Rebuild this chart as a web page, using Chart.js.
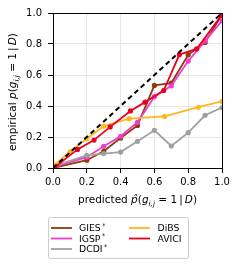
<!DOCTYPE html>
<html>
<head>
<meta charset="utf-8">
<script src="https://cdn.jsdelivr.net/npm/chart.js@4.4.1/dist/chart.umd.min.js"></script>
<style>
  html, body { margin: 0; padding: 0; background: #fff; }
  canvas { display: block; }
</style>
</head>
<body>
<canvas id="calib" width="240" height="267"></canvas>
<script>
// values
var methods = ['GIES', 'IGSP', 'DCDI', 'DiBS', 'AVICI'];
var starred = [true, true, true, false, false];
var colors = ['#8c3b0e', '#f23cc8', '#a0a0a0', '#ffb71c', '#e8001f'];

var giesX = [0.0, 0.2, 0.3, 0.4, 0.5, 0.6, 0.7, 0.8, 0.9, 1.0];
var giesY = [0.0, 0.05, 0.108, 0.194, 0.275, 0.533, 0.548, 0.73, 0.81, 0.99];

var igspX = [0.0, 0.2, 0.3, 0.4, 0.5, 0.6, 0.7, 0.8, 0.9, 1.0];
var igspY = [0.005, 0.07, 0.14, 0.205, 0.295, 0.46, 0.53, 0.69, 0.82, 0.95];

var dcdiX = [0.0, 0.2, 0.3, 0.4, 0.5, 0.6, 0.7, 0.8, 0.9, 1.0];
var dcdiY = [0.01, 0.082, 0.093, 0.103, 0.172, 0.243, 0.142, 0.228, 0.34, 0.39];

var dibsX = [0.01, 0.1, 0.2, 0.3, 0.45, 0.66, 0.86, 1.0];
var dibsY = [0.02, 0.105, 0.19, 0.27, 0.318, 0.333, 0.392, 0.43];

var aviciX = [0.01, 0.145, 0.243, 0.338, 0.458, 0.545, 0.655, 0.748, 0.85, 0.997];
var aviciY = [0.005, 0.12, 0.18, 0.265, 0.368, 0.425, 0.50, 0.732, 0.768, 0.985];

var diagX = [0, 1];
var diagY = [0, 1];

var tickValues = [0, 0.2, 0.4, 0.6, 0.8, 1.0];

var FONT = '"DejaVu Sans", sans-serif';

function pairs(xs, ys) {
    return xs.map(function(x, i) { return { x: x, y: ys[i] }; });
}

var seriesX = [giesX, igspX, dcdiX, dibsX, aviciX];
var seriesY = [giesY, igspY, dcdiY, dibsY, aviciY];
var drawOrder = [5, 4, 3, 2, 1];

var datasets = methods.map(function(name, i) {
    return {
        label: name,
        data: pairs(seriesX[i], seriesY[i]),
        showLine: true,
        borderColor: colors[i],
        backgroundColor: colors[i],
        borderWidth: 1.8,
        pointRadius: 2.6,
        pointBorderWidth: 0,
        order: drawOrder[i]
    };
});

datasets.push({
    label: 'diagonal',
    data: pairs(diagX, diagY),
    showLine: true,
    borderColor: '#000',
    borderWidth: 2,
    borderDash: [5, 3.5],
    pointRadius: 0,
    order: 0
});

// mixed italic / subscript text, like the mathtext labels
function runFont(r, size) {
    return (r.it ? 'italic ' : '') + (r.sub ? size * 0.7 : size) + 'px ' + FONT;
}

function drawRuns(ctx, runs, cx, baseY, size) {
    var w = 0;
    runs.forEach(function(r) {
        ctx.font = runFont(r, size);
        w += ctx.measureText(r.t).width;
    });
    var x = cx - w / 2;
    ctx.textAlign = 'left';
    ctx.textBaseline = 'alphabetic';
    runs.forEach(function(r) {
        ctx.font = runFont(r, size);
        ctx.fillText(r.t, x, baseY + (r.sub ? size * 0.28 : 0));
        x += ctx.measureText(r.t).width;
    });
}

function mathTail() {
    return [
        { t: '(' }, { t: 'g', it: 1 }, { t: 'i,j', it: 1, sub: 1 },
        { t: ' = 1\u2009|\u2009' }, { t: 'D', it: 1 }, { t: ')' }
    ];
}

var extrasPlugin = {
    id: 'extras',
    afterDraw: function(chart) {
        var ctx = chart.ctx;
        var a = chart.chartArea;
        ctx.save();

        // full frame
        ctx.strokeStyle = '#000';
        ctx.lineWidth = 1;
        ctx.strokeRect(Math.round(a.left) + 0.5, Math.round(a.top) + 0.5,
            Math.round(a.right - a.left), Math.round(a.bottom - a.top));

        // axis titles
        ctx.fillStyle = '#000';
        var cx = (a.left + a.right) / 2;
        drawRuns(ctx, [{ t: 'predicted ' }, { t: 'p\u0302', it: 1 }].concat(mathTail()), cx, 203, 10.5);

        ctx.save();
        ctx.translate(16, 92);
        ctx.rotate(-Math.PI / 2);
        drawRuns(ctx, [{ t: 'empirical ' }, { t: 'p', it: 1 }].concat(mathTail()), 0, 0, 10.5);
        ctx.restore();

        // legend, column-major like the reference
        ctx.beginPath();
        ctx.roundRect(48.5, 217.5, 140, 41, 2);
        ctx.fillStyle = 'rgba(255,255,255,0.8)';
        ctx.fill();
        ctx.strokeStyle = '#cccccc';
        ctx.stroke();

        var cols = [{ line: 51, text: 79 }, { line: 129, text: 157.5 }];
        var rows = [228, 238.5, 249];
        methods.forEach(function(name, i) {
            var c = cols[i < 3 ? 0 : 1];
            var y = rows[i < 3 ? i : i - 3];
            ctx.beginPath();
            ctx.moveTo(c.line, y);
            ctx.lineTo(c.line + 21, y);
            ctx.strokeStyle = colors[i];
            ctx.lineWidth = 1.8;
            ctx.stroke();

            ctx.fillStyle = '#000';
            ctx.font = '9.3px ' + FONT;
            ctx.textAlign = 'left';
            ctx.textBaseline = 'alphabetic';
            ctx.fillText(name, c.text, y + 3.4);
            if (starred[i]) {
                var w = ctx.measureText(name).width;
                ctx.font = '6.5px ' + FONT;
                ctx.fillText('*', c.text + w + 1.5, y - 0.5);
            }
        });

        ctx.restore();
    }
};

function axis(fitFn) {
    return {
        type: 'linear',
        min: 0,
        max: 1,
        afterBuildTicks: function(scale) {
            scale.ticks = tickValues.map(function(v) { return { value: v }; });
        },
        afterFit: fitFn,
        ticks: {
            color: '#000',
            font: { family: FONT, size: 10 },
            padding: 3,
            callback: function(v) { return v.toFixed(1); }
        },
        grid: {
            color: '#e6e6e6',
            tickColor: '#000',
            tickLength: 5,
            lineWidth: 1
        },
        border: { display: true, color: '#000', width: 1 }
    };
}

var xAxis = axis(function(scale) { scale.height = 26; });
var yAxis = axis(function(scale) { scale.width = 53; });
yAxis.ticks.padding = 6;

new Chart(document.getElementById('calib'), {
    type: 'scatter',
    data: { datasets: datasets },
    plugins: [extrasPlugin],
    options: {
        responsive: false,
        devicePixelRatio: 1,
        animation: false,
        layout: { padding: { left: 0, top: 13, right: 18, bottom: 73 } },
        plugins: {
            legend: { display: false },
            tooltip: { enabled: false }
        },
        scales: { x: xAxis, y: yAxis }
    }
});
</script>
</body>
</html>
